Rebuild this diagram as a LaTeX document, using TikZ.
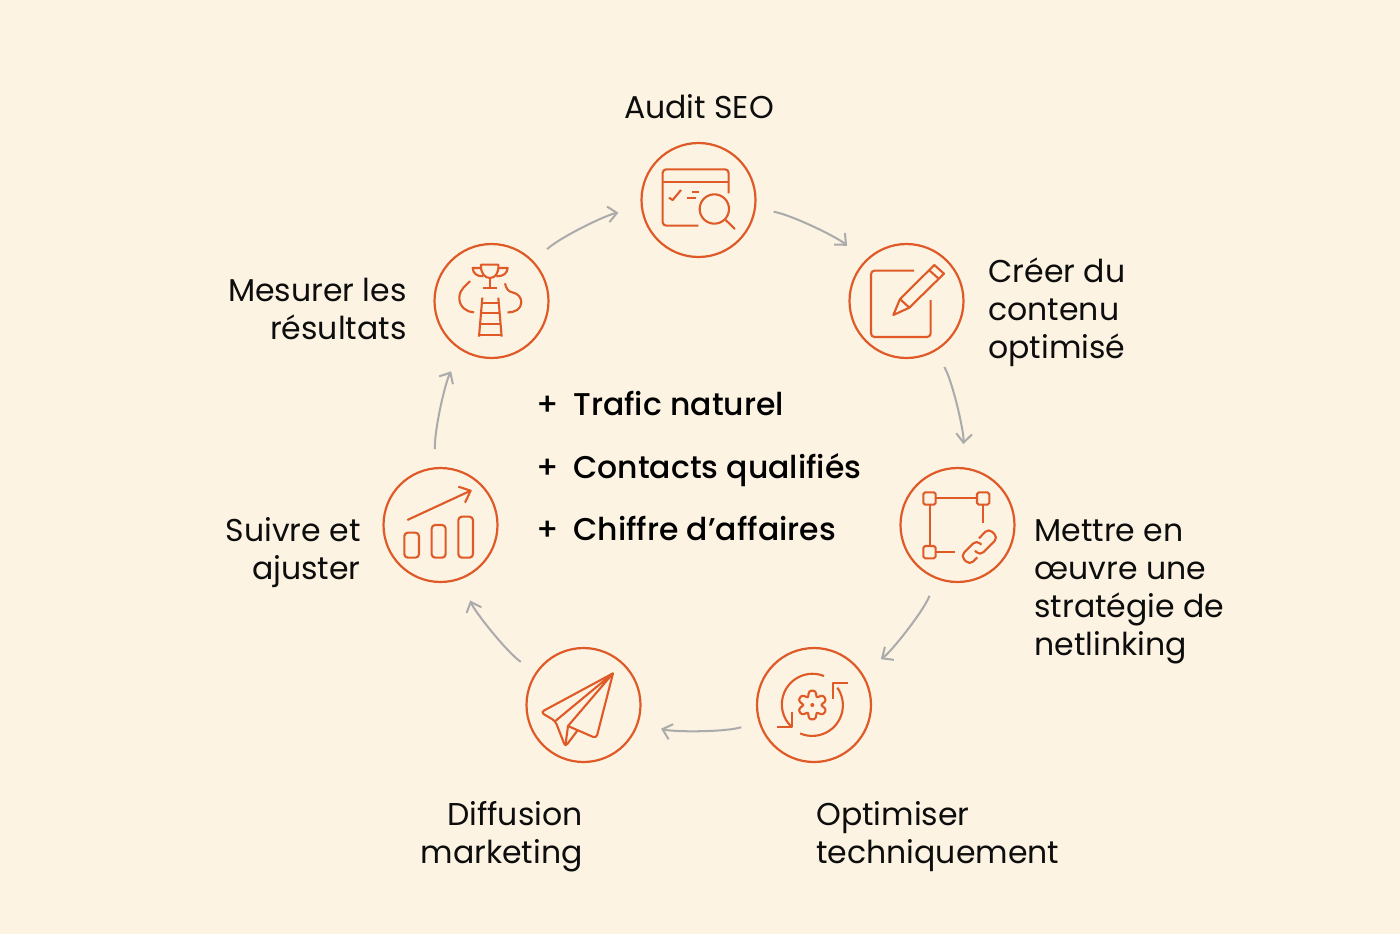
\documentclass[tikz,border=0pt]{standalone}
\usepackage{fontspec}
\setmainfont{Poppins}
\newfontfamily\medfont{Poppins Medium}
\usetikzlibrary{arrows.meta}
\definecolor{fondcreme}{HTML}{FCF3E3}
\definecolor{orangeseo}{HTML}{DF5A27}
\definecolor{grisfleche}{HTML}{ABABAB}
\tikzset{
  etape/.style={circle,draw=orangeseo,line width=1.25pt,minimum size=2.28cm,inner sep=0pt},
  texte/.style={font=\fontsize{17.95}{21.63}\selectfont,text=black!95,inner sep=0pt},
  gain/.style={font=\fontsize{17.9}{21.63}\selectfont\medfont,text=black,inner sep=0pt,anchor=base west},
  fleche/.style={draw=grisfleche,line width=1.15pt,-{Straight Barb[length=5pt,width=9pt]},bend left=17,looseness=.75,shorten <=18*0.02cm,shorten >=23*0.02cm},
  pict/.style={x=0.02cm/3,y=-0.02cm/3,draw=orangeseo,line width=1.2pt,line join=round},
}
\begin{document}
\begin{tikzpicture}[x=0.02cm,y=-0.02cm]

\fill[fondcreme] (0,0) rectangle (1400,934);

%les six etapes
\foreach \nom/\px/\py in {audit/698.5/200,creer/906.5/301,mettre/957.5/525,optim/814/705,diffu/583.5/705,suivre/440.5/525,mesure/491.5/301}
  \node[etape] (\nom) at (\px,\py) {};

%les fleches du cycle
\foreach \de/\vers in {audit/creer,creer/mettre,mettre/optim,optim/diffu,diffu/suivre,suivre/mesure,mesure/audit}
  \draw[fleche] (\de) to (\vers);

%les titres
\node[texte,anchor=base] (taudit) at (699,118) {Audit SEO};
\node[texte,anchor=west,align=left] (tcreer) at (988,312) {Créer du\\contenu\\optimisé};
\node[texte,anchor=west,align=left] (tmettre) at (1034,591.5) {Mettre en\\œuvre une\\stratégie de\\netlinking};
\node[texte,anchor=west,align=left] (toptim) at (816,837) {Optimiser\\techniquement};
\node[texte,anchor=east,align=right] (tdiffu) at (583,837) {Diffusion\\marketing};
\node[texte,anchor=east,align=right] (tsuivre) at (361,553) {Suivre et\\ajuster};
\node[texte,anchor=east,align=right] (tmesure) at (407,309) {Mesurer les\\résultats};

%les gains au centre
\node[gain] (plusa) at (536,415) {+};
\node[gain] (gaina) at (573,415) {Trafic naturel};
\node[gain] (plusb) at (536,478) {+};
\node[gain] (gainb) at (573,478) {Contacts qualifiés};
\node[gain] (plusc) at (536,540) {+};
\node[gain] (gainc) at (573,540) {Chiffre d’affaires};

%audit : fenetre et loupe
\begin{scope}[shift={(630,135)},pict]
  \draw[rounded corners=2pt] (205,272) -- (98,272) -- (98,103) -- (296,103) -- (296,175);
  \draw (98,140) -- (296,140);
  \draw (117,188) -- (128,195) -- (153,165);
  \draw (187,170) -- (208,170) (170,188) -- (197,188);
  \draw (253,222) circle (44);
  \draw (287,255) -- (315,282);
\end{scope}

%creer : feuille et crayon
\begin{scope}[shift={(840,235)},pict]
  \draw[rounded corners=2pt] (222,107) -- (93,107) -- (93,306) -- (272,306) -- (272,195);
  \draw (160,240) -- (180,192) -- (283,90) -- (312,116) -- (208,218) -- cycle;
  \draw (180,192) -- (208,218) (267,105) -- (297,132);
\end{scope}

%mettre : carre et maillon
\begin{scope}[shift={(890,460)},pict]
  \draw[rounded corners=1pt] (100,97) rectangle (137,134);
  \draw[rounded corners=1pt] (261,97) rectangle (298,134);
  \draw[rounded corners=1pt] (100,258) rectangle (137,295);
  \draw (137,115) -- (261,115) (119,134) -- (119,258);
  \draw (137,276) -- (195,276) (280,134) -- (280,190);
  \draw[rounded corners=2.8pt] (267,235) -- (296,205) -- (324,233) -- (270,287) -- (255,272);
  \draw[rounded corners=2.8pt] (274,254) -- (260,240) -- (212,288) -- (239,315) -- (262,292);
\end{scope}

%optimiser : engrenage et fleches
\begin{scope}[shift={(750,640)},pict]
  \draw (222,108) arc[start angle=-68,end angle=-226,radius=92];
  \draw (125,215) -- (125,262) -- (80,262);
  \draw (262,143) arc[start angle=-35,end angle=113,radius=92];
  \draw (293,130) -- (250,130) -- (250,178);
  \begin{scope}[shift={(187,195)}]
    \draw plot[smooth cycle,domain=0:354,samples=60] (\x:{37+8*cos(6*(\x-90))-2*cos(12*(\x-90))});
  \end{scope}
  \fill[orangeseo] (187,195) circle (6);
\end{scope}

%diffusion : avion en papier
\begin{scope}[shift={(518,640)},pict]
  \draw[rounded corners=2pt] (285,100) -- (68,217) -- (112,243) -- (142,320) -- (178,272);
  \draw[rounded corners=2pt] (150,258) -- (235,295) -- (285,100);
  \draw (112,243) -- (285,100) -- (150,258) -- (142,318);
\end{scope}

%suivre : barres et tendance
\begin{scope}[shift={(375,460)},pict]
  \draw[rounded corners=2pt] (88,293) -- (88,218) -- (132,218) -- (132,293) -- cycle;
  \draw[rounded corners=2pt] (170,293) -- (170,195) -- (212,195) -- (212,293) -- cycle;
  \draw[rounded corners=2pt] (250,293) -- (250,170) -- (294,170) -- (294,293) -- cycle;
  \draw (97,180) -- (287,92);
  \draw (250,80) -- (287,92) -- (270,128);
\end{scope}

%mesurer : coupe et echelle
\begin{scope}[shift={(425,235)},pict]
  \draw (168,89) -- (220,89) .. controls (222,115) and (210,129) .. (195,129) .. controls (180,129) and (166,115) .. cycle;
  \draw (168,99) -- (143,99) .. controls (144,115) and (155,124) .. (175,124);
  \draw (221,99) -- (248,99) .. controls (247,115) and (235,124) .. (214,124);
  \draw (195,129) -- (195,160) (175,160) -- (215,160);
  \draw (135,138) .. controls (125,152) and (103,160) .. (103,190) .. controls (103,215) and (125,232) .. (147,232);
  \draw (240,145) .. controls (243,160) and (250,170) .. (262,172) .. controls (280,175) and (290,190) .. (289,203) .. controls (288,222) and (270,233) .. (247,232);
  \draw (172,188) -- (162,305) (220,188) -- (230,305);
  \draw (170,203) -- (222,203) (167,235) -- (225,235) (165,267) -- (227,267) (162,300) -- (230,300);
\end{scope}

\end{tikzpicture}
\end{document}
